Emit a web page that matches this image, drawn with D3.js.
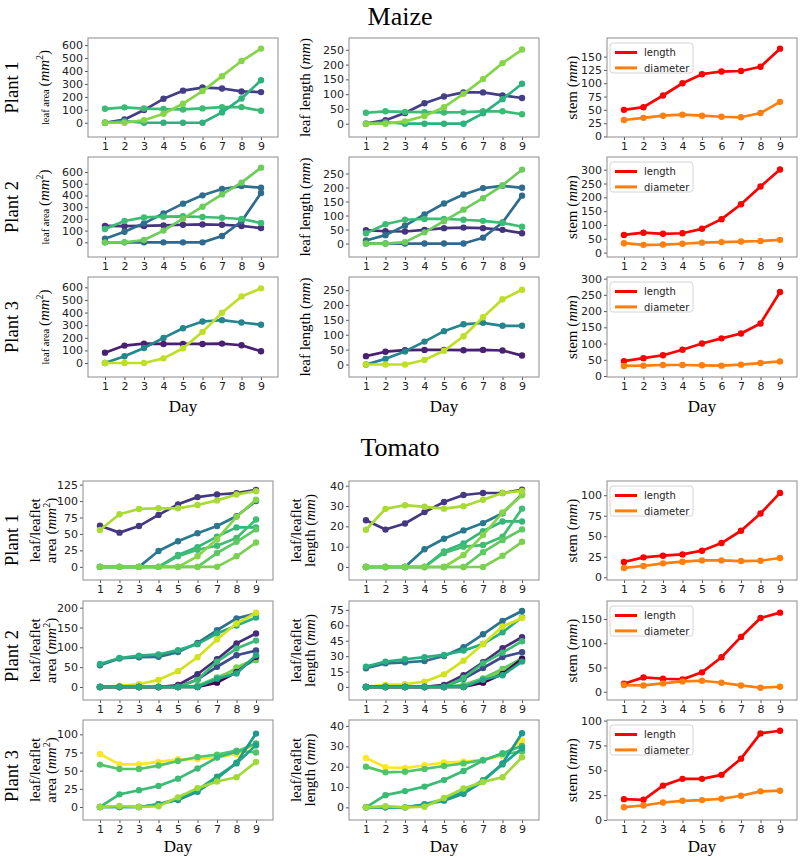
<!DOCTYPE html>
<html><head><meta charset="utf-8">
<script src="https://cdn.jsdelivr.net/npm/d3@7"></script>
<style>body{margin:0;background:#fff}</style>
</head><body>
<svg id="c" width="800" height="859"></svg>
<script>
// ---------------- data ----------------
const days = [1, 2, 3, 4, 5, 6, 7, 8, 9];
const dayTicks = [1, 2, 3, 4, 5, 6, 7, 8, 9];
const plantLabels = ["Plant 1", "Plant 2", "Plant 3"];
const stemLegend = ["length", "diameter"];

// Maize plant 1
const maizeP1Area = [
  [0, 25, 98, 185, 248, 272, 265, 242, 237],
  [108, 119, 110, 106, 103, 111, 121, 121, 93],
  [0, 12, 0, 0, 0, 0, 80, 188, 328],
  [0, 0, 20, 70, 147, 245, 360, 477, 573]
];
const maizeP1Length = [
  [0, 12, 36, 69, 92, 106, 106, 96, 87],
  [37, 42, 40, 39, 38, 39, 42, 42, 32],
  [0, 5, 0, 0, 0, 0, 35, 83, 135],
  [0, 0, 8, 26, 56, 101, 151, 205, 251]
];
const maizeP1StemLength = [50, 55, 77, 100, 117, 122, 123, 131, 165];
const maizeP1StemDiameter = [31, 35, 39, 41, 39, 37, 36, 44, 65];

// Maize plant 2
const maizeP2Area = [
  [140, 138, 140, 145, 150, 153, 150, 140, 122],
  [31, 91, 162, 247, 330, 401, 455, 480, 466],
  [0, 0, 0, 0, 0, 0, 54, 179, 421],
  [114, 182, 213, 219, 222, 216, 210, 199, 165],
  [0, 0, 20, 100, 202, 304, 409, 509, 637]
];
const maizeP2Length = [
  [48, 44, 43, 49, 55, 57, 55, 49, 37],
  [11, 30, 64, 104, 143, 175, 198, 206, 199],
  [0, 0, 0, 0, 0, 0, 21, 75, 171],
  [37, 69, 85, 88, 88, 85, 81, 74, 60],
  [0, 0, 5, 40, 80, 121, 162, 208, 264]
];
const maizeP2StemLength = [64, 72, 68, 70, 86, 121, 175, 239, 301];
const maizeP2StemDiameter = [34, 28, 29, 32, 36, 38, 40, 42, 46];

// Maize plant 3
const maizeP3Area = [
  [82, 138, 154, 151, 151, 151, 154, 141, 93],
  [0, 53, 119, 199, 276, 329, 340, 321, 303],
  [0, 0, 0, 37, 117, 247, 398, 528, 592]
];
const maizeP3Length = [
  [28, 43, 48, 49, 49, 48, 49, 47, 30],
  [0, 19, 44, 77, 112, 135, 140, 130, 130],
  [0, 0, 0, 15, 46, 95, 159, 219, 251]
];
const maizeP3StemLength = [46, 55, 64, 81, 100, 116, 131, 162, 259];
const maizeP3StemDiameter = [31, 32, 34, 34, 33, 32, 35, 40, 45];

// Tomato plant 1
const tomatoP1Area = [
  [62.5, 52, 62, 79, 95, 106, 110, 112, 117],
  [0, 0, 0, 24, 39, 51, 62, 77, 100],
  [0, 0, 0, 0, 18, 30, 46, 60, 60],
  [0, 0, 0, 0, 16, 26, 32, 44, 72],
  [0, 0, 0, 0, 0, 16, 42, 76, 102],
  [0, 0, 0, 0, 0, 0, 21, 38, 57],
  [0, 0, 0, 0, 0, 0, 0, 16, 37],
  [56, 80, 88, 89, 89, 94, 101, 110, 115]
];
const tomatoP1Length = [
  [23, 18.4, 21.4, 27, 32, 35.4, 36.4, 36.4, 38],
  [0, 0, 0, 8.7, 13.9, 18, 21.6, 26.4, 35.8],
  [0, 0, 0, 0, 7.7, 11.6, 17.6, 22.4, 22.4],
  [0, 0, 0, 0, 6.9, 10, 10.8, 14.9, 28.7],
  [0, 0, 0, 0, 0, 5.9, 15.7, 26.8, 35.3],
  [0, 0, 0, 0, 0, 0, 7.3, 13.2, 18.5],
  [0, 0, 0, 0, 0, 0, 0, 5.5, 12.4],
  [18.3, 28.6, 30.4, 29.6, 28.7, 29.9, 33.1, 36.4, 37.4]
];
const tomatoP1StemLength = [18.6, 24.3, 26.3, 27.9, 32.4, 41.7, 56.7, 77.7, 102.8];
const tomatoP1StemDiameter = [11.3, 13.8, 17, 19, 20.6, 20.6, 19.8, 20.2, 23.5];

// Tomato plant 2
const tomatoP2Area = [
  [55, 72, 75, 76, 88, 111, 143, 173, 185],
  [58, 73, 79, 82, 93, 108, 135, 155, 175],
  [0, 3, 7, 18, 40, 75, 120, 160, 187],
  [0, 0, 0, 0, 5, 32, 70, 110, 135],
  [0, 0, 0, 0, 0, 19, 51, 80, 92],
  [0, 0, 0, 0, 0, 18, 64, 97, 117],
  [0, 0, 0, 0, 0, 3, 24, 45, 68],
  [0, 0, 0, 0, 0, 0, 18, 49, 72],
  [0, 0, 0, 0, 0, 0, 11, 37, 76],
  [0, 0, 0, 0, 0, 0, 21, 34, 80]
];
const tomatoP2Length = [
  [18.2, 23, 24, 25.3, 30.2, 38.6, 51.3, 64.3, 74],
  [19.8, 24.7, 27, 29, 31.2, 35.4, 41.9, 53.2, 67.9],
  [0, 2, 2.6, 5.2, 12.3, 25.6, 41.9, 58.8, 67.2],
  [0, 0, 0, 0, 2, 11.4, 24, 37.7, 48.4],
  [0, 0, 0, 0, 0, 8, 18.5, 29.2, 33.8],
  [0, 0, 0, 0, 0, 8.8, 23, 33.4, 44.5],
  [0, 0, 0, 0, 0, 2, 8.4, 17.5, 28],
  [0, 0, 0, 0, 0, 0, 6.8, 15, 26],
  [0, 0, 0, 0, 0, 0, 4.2, 12.7, 27.3],
  [0, 0, 0, 0, 0, 0, 7, 11.4, 24.7]
];
const tomatoP2StemLength = [16.5, 29.6, 26.8, 25.5, 40, 71, 113, 152, 163];
const tomatoP2StemDiameter = [13.8, 13, 17.2, 21.3, 22.7, 18.6, 13, 8.3, 10.3];

// Tomato plant 3
const tomatoP3Area = [
  [73, 58.7, 58.7, 62, 65.6, 66, 68, 73, 87],
  [58.3, 52.3, 52.3, 57, 63.3, 68.8, 72, 77.5, 75],
  [0, 17.4, 23, 29, 39, 53, 68, 76, 87.6],
  [0, 0, 0, 3.7, 9.6, 21, 39.4, 61, 101],
  [0, 0, 0, 3.7, 11.5, 23.4, 41.7, 60, 85],
  [0, 1.4, 0, 1, 13.3, 26, 35, 41, 62]
];
const tomatoP3Length = [
  [24.3, 19.7, 19.3, 20.7, 22, 22.5, 23.3, 25.4, 32.8],
  [20, 17.2, 17.5, 18.9, 20.3, 21.6, 23.3, 26.2, 27.4],
  [0, 6, 8, 10.2, 13.4, 17.9, 23, 26.6, 30.2],
  [0, 0, 0, 1.3, 3.3, 6.7, 12.8, 21.6, 36.4],
  [0, 0, 0, 1.5, 4, 7.5, 13.4, 21.1, 29],
  [0, 0.6, 0, 0.3, 4.6, 9.3, 12.5, 14.8, 24.6]
];
const tomatoP3StemLength = [21, 20.3, 34.6, 41.4, 41.4, 45.4, 61.7, 87.1, 89.8];
const tomatoP3StemDiameter = [12.9, 14.6, 17.6, 19.3, 20, 21.4, 24.4, 28.8, 29.5];

// y tick values
const maizeAreaTicks = [[0,100,200,300,400,500,600],[0,100,200,300,400,500,600],[0,100,200,300,400,500,600]];
const maizeLengthTicks = [[0,50,100,150,200,250],[0,50,100,150,200,250],[0,50,100,150,200,250]];
const maizeStemTicks = [[0,25,50,75,100,125,150],[0,50,100,150,200,250,300],[0,50,100,150,200,250,300]];
const tomatoAreaTicks = [[0,25,50,75,100,125],[0,50,100,150,200],[0,25,50,75,100]];
const tomatoLengthTicks = [[0,10,20,30,40],[0,15,30,45,60,75],[0,10,20,30,40]];
const tomatoStemTicks = [[0,25,50,75,100],[0,50,100,150],[0,25,50,75,100]];

// y limits
const maizeAreaLim = [[-110, 655], [-125, 728], [-111, 682]];
const maizeLengthLim = [[-45, 290], [-48, 309], [-42, 294]];
const maizeStemLim = [[-1, 185], [-16, 346], [-3, 305]];
const tomatoAreaLim = [[-20, 130.5], [-32.8, 216.8], [-17.9, 119.7]];
const tomatoLengthLim = [[-6.4, 42.3], [-12.7, 83.7], [-6.2, 42.9]];
const tomatoStemLim = [[-3.3, 117.3], [-17, 187], [0, 100.6]];
const dayLim = [0.13, 9.87];

// ---------------- styles ----------------
const maizeColors = [
  ["#433e85", "#3bbb75", "#2db27d", "#86d549"],
  ["#46337e", "#2e6e8e", "#31688e", "#3dbc74", "#6ccd5a"],
  ["#482173", "#25858e", "#bddf26"]
];
const tomatoColors = [
  ["#453781", "#2a788e", "#35b779", "#40bd72", "#86d549", "#5ec962", "#7ad151", "#a8db34"],
  ["#2c728e", "#28ae80", "#d2e21b", "#472d7b", "#3e4a89", "#3bbb75", "#5ec962", "#7ad151", "#440154", "#22a884"],
  ["#fde725", "#52c569", "#3bbb75", "#1f988b", "#20a486", "#a0da39"]
];
const stemColors = ["#ff0000", "#ff7f0e"];
const SERIF = "'Liberation Serif', 'Times New Roman', serif";
const SANS = "'DejaVu Sans', sans-serif";
const GRID = "#8c8c8c";

const svg = d3.select("#c");

// layout
const maizeRows = [[38, 137], [157, 257], [277, 377]];
const tomatoRows = [[481, 580], [601, 700], [720, 820]];
const maizeCols = [[88, 278], [349, 539], [607, 797]];
const tomatoCols = [[83, 273], [349, 539], [607, 797]];

function panel(cols, rows, series, colors, lim, ticks, legend) {
  const [x0, x1] = cols, [y0, y1] = rows;
  const x = d3.scaleLinear().domain(dayLim).range([x0, x1]);
  const y = d3.scaleLinear().domain(lim).range([y1, y0]);
  const g = svg.append("g");
  const xa = g.append("g").attr("transform", `translate(0,${y1})`)
    .call(d3.axisBottom(x).tickValues(dayTicks).tickSize(3).tickPadding(2).tickFormat(d3.format("d")));
  const ya = g.append("g").attr("transform", `translate(${x0},0)`)
    .call(d3.axisLeft(y).tickValues(ticks).tickSize(3).tickPadding(2));
  [xa, ya].forEach(a => {
    a.select(".domain").remove();
    a.selectAll(".tick line").attr("stroke", "#555");
    a.selectAll(".tick text").attr("fill", "#222").style("font-family", SANS).style("font-size", "11px");
  });
  const line = d3.line().x((d, i) => x(days[i])).y(d => y(d));
  series.forEach((s, k) => {
    g.append("path").attr("d", line(s)).attr("fill", "none")
      .attr("stroke", colors[k]).attr("stroke-width", 2.7).attr("stroke-linejoin", "round");
    g.selectAll(null).data(s).enter().append("circle")
      .attr("cx", (d, i) => x(days[i])).attr("cy", d => y(d)).attr("r", 3.2)
      .attr("fill", colors[k]);
  });
  g.append("rect").attr("x", x0).attr("y", y0).attr("width", x1 - x0).attr("height", y1 - y0)
    .attr("fill", "none").attr("stroke", GRID).attr("stroke-width", 1);
  if (legend) {
    const lg = g.append("g");
    lg.append("rect").attr("x", x0 + 3).attr("y", y0 + 5).attr("width", 83).attr("height", 30)
      .attr("rx", 3).attr("fill", "#fff").attr("fill-opacity", 0.85).attr("stroke", "#d4d4d4");
    stemLegend.forEach((t, k) => {
      const ly = y0 + 14.5 + k * 15.4;
      lg.append("line").attr("x1", x0 + 8).attr("x2", x0 + 30).attr("y1", ly).attr("y2", ly)
        .attr("stroke", stemColors[k]).attr("stroke-width", 3);
      lg.append("text").attr("x", x0 + 37).attr("y", ly + 3.6).text(t)
        .style("font-family", SANS).style("font-size", "10px").attr("fill", "#222");
    });
  }
}

function rotLabel(bx, cy, parts) {
  const t = svg.append("text").attr("transform", `translate(${bx},${cy}) rotate(-90)`)
    .attr("text-anchor", "middle").style("font-family", SERIF).attr("fill", "#000");
  parts.forEach(p => {
    const ts = t.append("tspan").text(p.t).style("font-size", p.s + "px");
    if (p.i) ts.style("font-style", "italic");
    if (p.dy) ts.attr("dy", p.dy);
  });
  return t;
}
const unitMM2 = [{t: "(", s: 15}, {t: "mm", s: 15, i: true}, {t: "2", s: 10, dy: -6}, {t: ")", s: 15, dy: 6}];
const unitMM = [{t: "(", s: 15}, {t: "mm", s: 15, i: true}, {t: ")", s: 15}];

// titles
svg.append("text").attr("x", 400).attr("y", 25).attr("text-anchor", "middle")
  .style("font-family", SERIF).style("font-size", "26px").text("Maize");
svg.append("text").attr("x", 400).attr("y", 456).attr("text-anchor", "middle")
  .style("font-family", SERIF).style("font-size", "26px").text("Tomato");

const maizeData = [
  [maizeP1Area, maizeP1Length, [maizeP1StemLength, maizeP1StemDiameter]],
  [maizeP2Area, maizeP2Length, [maizeP2StemLength, maizeP2StemDiameter]],
  [maizeP3Area, maizeP3Length, [maizeP3StemLength, maizeP3StemDiameter]]
];
const tomatoData = [
  [tomatoP1Area, tomatoP1Length, [tomatoP1StemLength, tomatoP1StemDiameter]],
  [tomatoP2Area, tomatoP2Length, [tomatoP2StemLength, tomatoP2StemDiameter]],
  [tomatoP3Area, tomatoP3Length, [tomatoP3StemLength, tomatoP3StemDiameter]]
];

maizeData.forEach((d, r) => {
  const rows = maizeRows[r];
  panel(maizeCols[0], rows, d[0], maizeColors[r], maizeAreaLim[r], maizeAreaTicks[r], false);
  panel(maizeCols[1], rows, d[1], maizeColors[r], maizeLengthLim[r], maizeLengthTicks[r], false);
  panel(maizeCols[2], rows, d[2], stemColors, maizeStemLim[r], maizeStemTicks[r], true);
  const cy = (rows[0] + rows[1]) / 2;
  rotLabel(18, cy, [{t: plantLabels[r], s: 18.5}]);
  rotLabel(49, cy, [{t: "leaf area ", s: 10.5}].concat(unitMM2));
  rotLabel(310, cy, [{t: "leaf length ", s: 15}].concat(unitMM));
  rotLabel(577, cy, [{t: "stem ", s: 15}].concat(unitMM));
});

const tomatoPlantCy = [540, 656, 776];
tomatoData.forEach((d, r) => {
  const rows = tomatoRows[r];
  panel(tomatoCols[0], rows, d[0], tomatoColors[r], tomatoAreaLim[r], tomatoAreaTicks[r], false);
  panel(tomatoCols[1], rows, d[1], tomatoColors[r], tomatoLengthLim[r], tomatoLengthTicks[r], false);
  panel(tomatoCols[2], rows, d[2], stemColors, tomatoStemLim[r], tomatoStemTicks[r], true);
  const cy = (rows[0] + rows[1]) / 2;
  rotLabel(18, tomatoPlantCy[r], [{t: plantLabels[r], s: 18.5}]);
  rotLabel(40, cy, [{t: "leaf/leaflet", s: 15}]);
  rotLabel(55.5, cy, [{t: "area ", s: 15}].concat(unitMM2));
  rotLabel(301, cy, [{t: "leaf/leaflet", s: 15}]);
  rotLabel(315, cy, [{t: "length ", s: 15}].concat(unitMM));
  rotLabel(577, cy, [{t: "stem ", s: 15}].concat(unitMM));
});

// x axis labels
[maizeCols, tomatoCols].forEach((cols, k) => {
  const by = k === 0 ? 412 : 852;
  cols.forEach(c => {
    svg.append("text").attr("x", (c[0] + c[1]) / 2).attr("y", by).attr("text-anchor", "middle")
      .style("font-family", SERIF).style("font-size", "17px").text("Day");
  });
});
</script>
</body></html>
